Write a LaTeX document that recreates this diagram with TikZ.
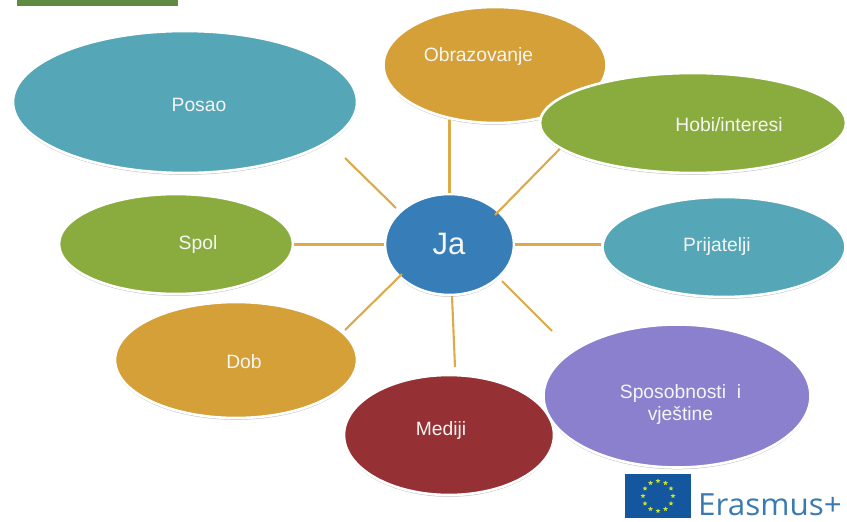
\documentclass[tikz,border=0pt]{standalone}
\usepackage{fontspec}
\setmainfont{Liberation Sans}
\newfontfamily\erasfont[FakeStretch=1.03]{Open Sans}
\usetikzlibrary{shapes.geometric,shadows,calc}
\definecolor{cteal}{HTML}{55A6B6}
\definecolor{corange}{HTML}{D4A037}
\definecolor{cgreen}{HTML}{8AAC3F}
\definecolor{cblue}{HTML}{377EB8}
\definecolor{cpurple}{HTML}{8A80CE}
\definecolor{cred}{HTML}{953034}
\definecolor{cline}{HTML}{DCA94B}
\definecolor{cbar}{HTML}{5F8A41}
\definecolor{cflag}{HTML}{15579F}
\definecolor{ceras}{HTML}{3A7AB2}
\tikzset{
  bub/.style={ellipse,draw=white,line width=2.6pt,inner sep=0pt,
    drop shadow={shadow xshift=0pt,shadow yshift=-1.8pt,opacity=.45,fill=black!55}},
  lab/.style={text=white!92!gray,font=\fontsize{19.3}{22}\selectfont,align=center,inner sep=0pt},
  spoke/.style={draw=cline,line width=2.1pt},
  euStar/.style={star,star points=5,star point ratio=2.2,fill=yellow!75!green!85!white,inner sep=0pt,minimum size=5pt}
}
\begin{document}
\begin{tikzpicture}[x=1pt,y=-1pt]
\useasboundingbox (0,0) rectangle (847,522);
\node[fill=cbar,inner sep=0pt,minimum width=161pt,minimum height=6pt] (bar) at (97.5,3) {};

\node[bub,fill=cteal,minimum width=344pt,minimum height=142pt] (posao) at (185,102) {};
\node[bub,fill=corange,minimum width=223pt,minimum height=116pt] (obr) at (495,65) {};
\node[bub,fill=cgreen,minimum width=306pt,minimum height=100pt] (hobi) at (693,123) {};
\node[bub,fill=cgreen,minimum width=234pt,minimum height=100pt] (spol) at (176,244) {};
\node[bub,fill=cblue,minimum width=129pt,minimum height=101pt] (ja) at (449.5,244.5) {};
\node[bub,fill=cteal,minimum width=243pt,minimum height=100pt] (prij) at (724,247) {};
\node[bub,fill=corange,minimum width=242pt,minimum height=116pt] (dob) at (236,360) {};
\node[bub,fill=cred,minimum width=210pt,minimum height=120pt] (med) at (449,435) {};
\node[bub,fill=cpurple,minimum width=267pt,minimum height=143pt] (spos) at (677,396) {};

\node[lab] (tposao) at (199,105) {Posao};
\node[lab] (tobr) at (478.5,57) {Obrazovanje};
\node[lab] (thobi) at (729,125) {Hobi/interesi};
\node[lab] (tspol) at (198,245) {Spol};
\node[lab,font=\fontsize{31}{36}\selectfont] (tja) at (449,244) {Ja};
\node[lab] (tprij) at (717,246.5) {Prijatelji};
\node[lab] (tdob) at (244,362) {Dob};
\node[lab] (tmed) at (441,431) {Mediji};
\node[lab] (tspos) at (680.5,405) {Sposobnosti~ i\\vještine};

\coordinate (f1) at (396,208);
\coordinate (f2) at (345,158);
\coordinate (f3) at (452,296);
\coordinate (f4) at (455,367);
\coordinate (f5) at (502,281);
\coordinate (f6) at (552,331);
\coordinate (f7) at (345,330);
\coordinate (f8) at (402,274);
\coordinate (f9) at (495,215);

\draw[spoke] (ja.north) -- (ja.north |- obr.231);
\draw[spoke] (f9) -- (hobi.191);
\draw[spoke] (ja.west) -- (ja.west -| spol.east);
\draw[spoke] (ja.east) -- (ja.east -| prij.west);
\draw[spoke] (f1) -- (f2);
\draw[spoke] (f3) -- (f4);
\draw[spoke] (f5) -- (f6);
\draw[spoke] (f8) -- (f7);

\node[fill=cflag,inner sep=0pt,minimum width=66pt,minimum height=44pt] (flag) at (658,496) {};
\foreach \i in {0,...,11}{
  \node[euStar] (s\i) at ($(flag.center)+(\i*30:15pt)$) {};
}
\node[anchor=base west,inner sep=0pt,text=ceras,font=\erasfont\fontsize{30.5}{34}\selectfont] (eras) at (698,515.5) {Erasmus+};
\end{tikzpicture}
\end{document}
